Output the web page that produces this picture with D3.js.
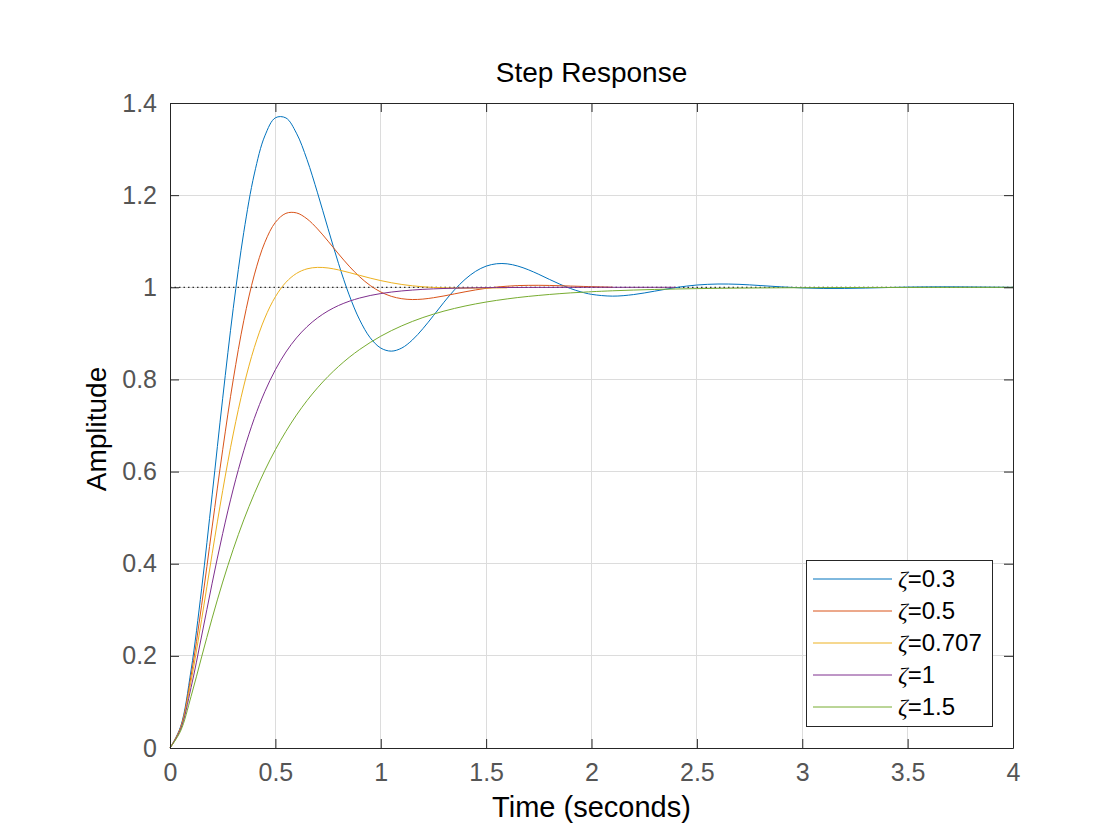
<!DOCTYPE html>
<html><head><meta charset="utf-8">
<script src="https://cdn.jsdelivr.net/npm/d3@7"></script>
<style>body{margin:0;background:#fff;}svg{display:block;font-family:"Liberation Sans",Arial,Helvetica,sans-serif;}</style>
</head><body><svg id="chart" width="1120" height="840"></svg>
<script>
// Time samples (s)
const times = [0,0.05,0.1,0.15,0.2,0.25,0.3,0.35,0.4,0.45,0.5,0.55,0.6,0.65,0.7,0.75,0.8,0.85,0.9,0.95,
  1.0,1.05,1.1,1.15,1.2,1.25,1.3,1.35,1.4,1.45,1.5,1.55,1.6,1.65,1.7,1.75,1.8,1.85,1.9,1.95,
  2.0,2.1,2.2,2.3,2.4,2.5,2.6,2.7,2.8,2.9,3.0,3.1,3.2,3.3,3.4,3.5,3.6,3.7,3.8,3.9,4.0];
// Amplitude readings per damping ratio (each series may stop earlier)
const yZeta03 = [0,0.0460,0.1692,0.3454,0.5494,0.7591,0.9540,1.1192,1.2459,1.3286,1.3679,1.3676,1.3345,1.2773,1.2050,1.1271,1.0511,0.9835,0.9292,0.8904,
  0.8681,0.8614,0.8682,0.8856,0.9102,0.9385,0.9676,0.9945,1.0172,1.0346,1.0459,1.0511,1.0509,1.0461,1.0381,1.0281,1.0172,1.0067,0.9974,0.9900,
  0.9847,0.9808,0.9842,0.9916,0.9994,1.0049,1.0071,1.0064,1.0038,1.0009,0.9986,0.9974,0.9975,0.9983,0.9994,1.0004,1.0009,1.0010,1.0007,1.0003,0.9999];
const yZeta05 = [0,0.0442,0.1568,0.3098,0.4798,0.6473,0.7994,0.9274,1.0268,1.0975,1.1409,1.1605,1.1615,1.1486,1.1267,1.1001,1.0723,1.0459,1.0227,1.0039,
  0.9898,0.9804,0.9752,0.9734,0.9744,0.9773,0.9812,0.9857,0.9902,0.9943,0.9978,1.0005,1.0024,1.0037,1.0042,1.0043,1.0040,1.0034,1.0027,1.0020,
  1.0013,1.0001];
const yZeta0707 = [0,0.0424,0.1454,0.2789,0.4215,0.5587,0.6816,0.7856,0.8692,0.9332,0.9794,1.0108,1.0300,1.0400,1.0432,1.0419,1.0377,1.0320,1.0259,1.0199,
  1.0145,1.0099,1.0061,1.0032,1.0011,0.9997,0.9988,0.9983,0.9981,0.9982,0.9983,0.9986,0.9988];
const yZeta1 = [0,0.0401,0.1313,0.2431,0.3577,0.4656,0.5620,0.6452,0.7154,0.7735,0.8210,0.8594,0.8901,0.9144,0.9336,0.9487,0.9605,0.9696,0.9767,0.9822,
  0.9864,0.9896,0.9921,0.9940,0.9955,0.9966,0.9974,0.9980,0.9985,0.9989,0.9992,0.9994,0.9995,0.9996,0.9997,0.9998,0.9998,0.9999,0.9999,0.9999,
  1.0,1.0,1.0,1.0,1.0];
const yZeta15 = [0,0.0366,0.1120,0.1976,0.2819,0.3602,0.4313,0.4951,0.5519,0.6025,0.6474,0.6872,0.7226,0.7540,0.7818,0.8065,0.8283,0.8478,0.8650,0.8802,
  0.8938,0.9058,0.9164,0.9259,0.9343,0.9417,0.9483,0.9541,0.9593,0.9639,0.9680,0.9716,0.9748,0.9777,0.9802,0.9824,0.9844,0.9862,0.9878,0.9891,
  0.9904,0.9924,0.9940,0.9953,0.9963,0.9971,0.9977,0.9982,0.9986,0.9989,0.9991,0.9993,0.9995,0.9996,0.9997,0.9997,0.9998,0.9998,0.9999,0.9999,0.9999];
const seriesNames = ["0.3","0.5","0.707","1","1.5"];
const seriesColors = ["#0072BD","#D95319","#EDB120","#7E2F8E","#77AC30"];
const seriesValues = [yZeta03,yZeta05,yZeta0707,yZeta1,yZeta15];
const xTicks = [0,0.5,1,1.5,2,2.5,3,3.5,4];
const yTicks = [0,0.2,0.4,0.6,0.8,1,1.2,1.4];
const titleText = "Step Response";
const xLabelText = "Time (seconds)";
const yLabelText = "Amplitude";

const svg = d3.select("#chart");
const L = 170, R = 1013, T = 103, B = 748;
const x = d3.scaleLinear().domain([0,4]).range([L,R]);
const y = d3.scaleLinear().domain([0,1.4]).range([B,T]);
const axisCol = "#262626", tickTextCol = "#555555";

// grid
const g = svg.append("g");
g.selectAll(".gx").data(xTicks).join("line")
  .attr("x1",d=>x(d)).attr("x2",d=>x(d)).attr("y1",T).attr("y2",B)
  .attr("stroke","#dcdcdc").attr("stroke-width",1).attr("shape-rendering","crispEdges");
g.selectAll(".gy").data(yTicks).join("line")
  .attr("y1",d=>y(d)).attr("y2",d=>y(d)).attr("x1",L).attr("x2",R)
  .attr("stroke","#dcdcdc").attr("stroke-width",1).attr("shape-rendering","crispEdges");

// reference line at 1
svg.append("line").attr("x1",x(0)).attr("x2",x(4)).attr("y1",y(1)).attr("y2",y(1))
  .attr("stroke","#000").attr("stroke-width",1).attr("stroke-dasharray","1.5,3");

// curves
const line = d3.line().x(d=>x(d[0])).y(d=>y(d[1])).curve(d3.curveCatmullRom);
seriesValues.forEach((vals,i)=>{
  const pts = vals.map((v,k)=>[times[k],v]);
  svg.append("path").attr("d",line(pts)).attr("fill","none")
    .attr("stroke",seriesColors[i]).attr("stroke-width",1);
});

// axes (box with inward ticks)
const tl = 9;
const ax = svg.append("g");
ax.append("g").attr("transform",`translate(0,${B})`)
  .call(d3.axisBottom(x).tickValues(xTicks).tickSizeInner(-tl).tickSizeOuter(0).tickPadding(15).tickFormat(d3.format("")));
ax.append("g").attr("transform",`translate(0,${T})`)
  .call(d3.axisTop(x).tickValues(xTicks).tickSizeInner(-tl).tickSizeOuter(0).tickFormat(""));
ax.append("g").attr("transform",`translate(${L},0)`)
  .call(d3.axisLeft(y).tickValues(yTicks).tickSizeInner(-tl).tickSizeOuter(0).tickPadding(13).tickFormat(d3.format("")));
ax.append("g").attr("transform",`translate(${R},0)`)
  .call(d3.axisRight(y).tickValues(yTicks).tickSizeInner(-tl).tickSizeOuter(0).tickFormat(""));
ax.selectAll("path.domain").attr("stroke",axisCol).attr("stroke-width",1);
ax.selectAll(".tick line").attr("stroke",axisCol).attr("stroke-width",1);
ax.selectAll(".tick text").attr("fill",tickTextCol).style("font-size","25px")
  .style("font-family","'Liberation Sans',Arial,sans-serif");

// titles
svg.append("text").attr("x",(L+R)/2).attr("y",82).attr("text-anchor","middle")
  .style("font-size","28px").attr("fill","#000").text(titleText);
svg.append("text").attr("x",(L+R)/2).attr("y",817).attr("text-anchor","middle")
  .style("font-size","29px").attr("fill","#000").text(xLabelText);
svg.append("text").attr("transform",`translate(106,429) rotate(-90)`).attr("text-anchor","middle")
  .style("font-size","28px").attr("fill","#000").text(yLabelText);

// legend
const lg = svg.append("g");
lg.append("rect").attr("x",806.5).attr("y",560.5).attr("width",186).attr("height",166)
  .attr("fill","#fff").attr("stroke",axisCol).attr("stroke-width",1);
seriesNames.forEach((n,i)=>{
  const yy = 579 + i*32;
  lg.append("line").attr("x1",813).attr("x2",892).attr("y1",yy).attr("y2",yy)
    .attr("stroke",seriesColors[i]).attr("stroke-width",1);
  const t = lg.append("text").attr("x",898).attr("y",yy+8).style("font-size","24px").attr("fill","#000");
  t.append("tspan").style("font-family","'Liberation Serif','Times New Roman',serif").style("font-style","italic").text("ζ");
  t.append("tspan").text("=" + n);
});
</script></body></html>
